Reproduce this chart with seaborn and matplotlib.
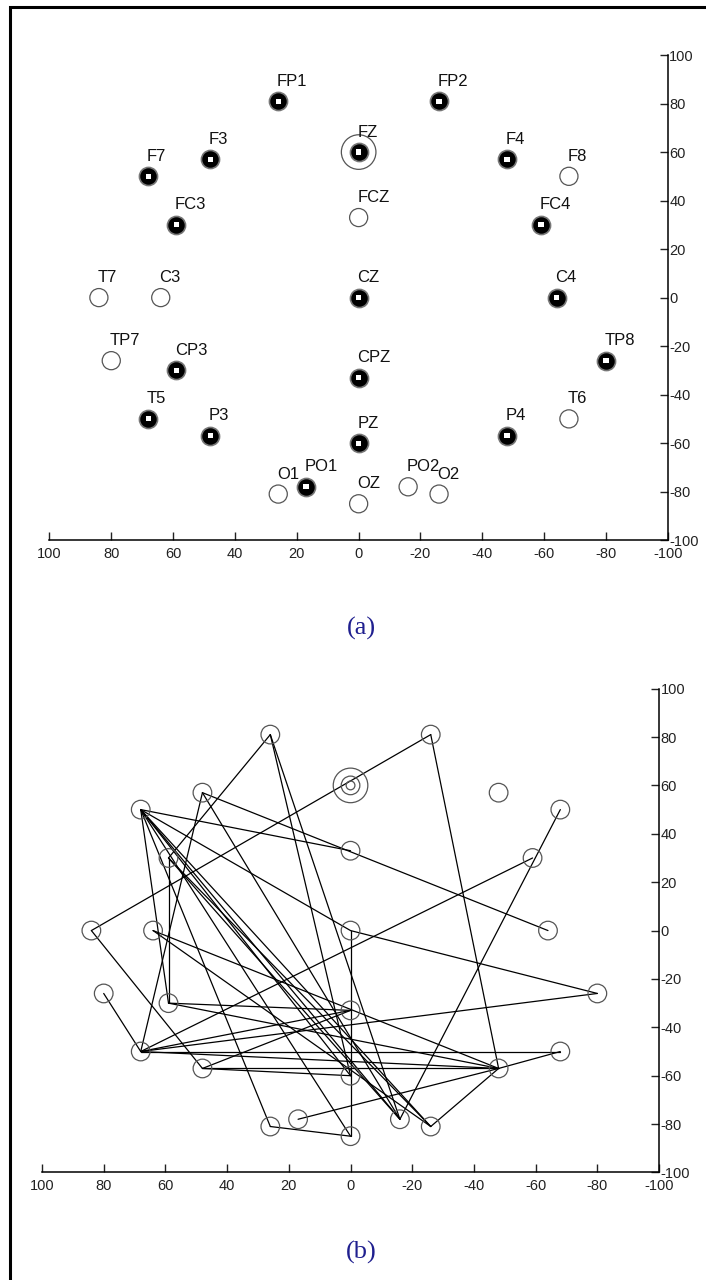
import numpy as np
import pandas as pd
import matplotlib
matplotlib.use('Agg')
import matplotlib.pyplot as plt
import seaborn as sns
from matplotlib.patches import Rectangle

# electrode names and positions (x axis reversed: left = +100)
names = ['FP1', 'FP2', 'F7', 'F3', 'FZ', 'F4', 'F8', 'FC3', 'FCZ', 'FC4',
         'T7', 'C3', 'CZ', 'C4', 'TP7', 'CP3', 'CPZ', 'TP8', 'T5', 'P3',
         'PZ', 'P4', 'T6', 'O1', 'PO1', 'OZ', 'PO2', 'O2']
xs = [26, -26, 68, 48, 0, -48, -68, 59, 0, -59,
      84, 64, 0, -64, 80, 59, 0, -80, 68, 48,
      0, -48, -68, 26, 17, 0, -16, -26]
ys = [81, 81, 50, 57, 60, 57, 50, 30, 33, 30,
      0, 0, 0, 0, -26, -30, -33, -26, -50, -57,
      -60, -57, -50, -81, -78, -85, -78, -81]
# selected channels (filled markers in panel a)
selected = ['FP1', 'FP2', 'FZ', 'F3', 'F4', 'F7', 'FC3', 'FC4', 'CZ', 'C4',
            'CP3', 'CPZ', 'TP8', 'T5', 'P3', 'PZ', 'P4', 'PO1']

# connections drawn in panel b
edge_from = ['T7', 'FP2', 'F8', 'FC4', 'F3', 'F7', 'CZ', 'F7', 'F7', 'FC3',
             'CP3', 'CZ', 'O1', 'F7', 'PO1', 'T5', 'T5', 'P3', 'P3', 'TP7',
             'T7', 'C3', 'FP1', 'FP1', 'F7', 'F7', 'F7', 'FP1', 'C3', 'T5',
             'F3', 'F7', 'FC3', 'FC3', 'T6', 'P4', 'T5', 'P3', 'CP3', 'T5']
edge_to = ['FP2', 'P4', 'PO2', 'T5', 'C4', 'FCZ', 'TP8', 'CZ', 'CP3', 'CP3',
           'CPZ', 'OZ', 'OZ', 'O1', 'P4', 'T6', 'P4', 'P4', 'PZ', 'T5',
           'P3', 'P4', 'PO2', 'PZ', 'PO2', 'O2', 'PZ', 'FC3', 'O2', 'CPZ',
           'PO2', 'OZ', 'PO2', 'O2', 'P4', 'O2', 'TP8', 'CPZ', 'P4', 'F3']

df = pd.DataFrame({'name': names, 'x': xs, 'y': ys})
df['sel'] = df['name'].isin(selected)
pos = df.set_index('name')

sns.set_style('white')
plt.rcParams['font.family'] = ['Liberation Sans', 'DejaVu Sans']
plt.rcParams['axes.unicode_minus'] = False

fig = plt.figure(figsize=(7.06, 12.80), dpi=100)
ax_a = fig.add_axes([0.070, 0.578, 0.876, 0.379])
ax_b = fig.add_axes([0.0595, 0.084, 0.874, 0.378])


def style_axes(ax):
    ax.set_xlim(100, -100)
    ax.set_ylim(-100, 100)
    ax.set_xticks(np.arange(100, -101, -20))
    ax.set_yticks(np.arange(-100, 101, 20))
    ax.yaxis.tick_right()
    for s in ['top', 'left']:
        ax.spines[s].set_visible(False)
    for s in ['bottom', 'right']:
        ax.spines[s].set_color('black')
        ax.spines[s].set_linewidth(1.1)
    ax.tick_params(direction='in', length=6, width=1, labelsize=10.5,
                   colors='#222222', bottom=True, right=True, left=False)
    ax.tick_params(axis='y', pad=1)
    ax.tick_params(axis='x', pad=5)
    ax.set_facecolor('white')


# ---- panel (a)
style_axes(ax_a)
sns.scatterplot(data=df[~df['sel']], x='x', y='y', ax=ax_a, s=170, marker='o',
                facecolor='none', edgecolor='#555555', linewidth=0.9, legend=False)
sns.scatterplot(data=df[df['sel']], x='x', y='y', ax=ax_a, s=170, marker='o',
                color='black', edgecolor='#777777', linewidth=1.2, legend=False, zorder=3)
sns.scatterplot(data=df[df['sel']], x='x', y='y', ax=ax_a, s=14, marker='s',
                color='white', edgecolor='none', legend=False, zorder=4)
ax_a.scatter(pos.loc['FZ', 'x'], pos.loc['FZ', 'y'], s=620, facecolor='none',
             edgecolor='#555555', linewidth=0.9, zorder=2)
for n, r in pos.iterrows():
    ax_a.annotate(n, (r['x'], r['y']), xytext=(-1, 9), textcoords='offset points',
                  fontsize=12, ha='left', va='bottom', color='#111111')
ax_a.set_xlabel('')
ax_a.set_ylabel('')

# ---- panel (b)
style_axes(ax_b)
for a, b in zip(edge_from, edge_to):
    ax_b.plot([pos.loc[a, 'x'], pos.loc[b, 'x']], [pos.loc[a, 'y'], pos.loc[b, 'y']],
              color='black', linewidth=0.9, zorder=2)
sns.scatterplot(data=df, x='x', y='y', ax=ax_b, s=180, marker='o',
                facecolor='none', edgecolor='#555555', linewidth=0.9, legend=False, zorder=3)
ax_b.scatter([pos.loc['FZ', 'x']] * 2, [pos.loc['FZ', 'y']] * 2, s=[620, 40],
             facecolor='none', edgecolor='#555555', linewidth=0.9, zorder=3)
ax_b.set_xlabel('')
ax_b.set_ylabel('')

# captions
fig.text(0.512, 1 - 628 / 1280, '(a)', family='Liberation Serif', fontsize=19,
         color='#1f1f8f', ha='center', va='center')
fig.text(0.512, 1 - 1252 / 1280, '(b)', family='Liberation Serif', fontsize=19,
         color='#1f1f8f', ha='center', va='center')

# outer frame (left and top edges visible)
fig.add_artist(Rectangle((0.0135, -0.2), 1.2, 1.1945, transform=fig.transFigure,
                         fill=False, edgecolor='black', linewidth=2.2))

fig.savefig('out.png', dpi=100, facecolor='white')
